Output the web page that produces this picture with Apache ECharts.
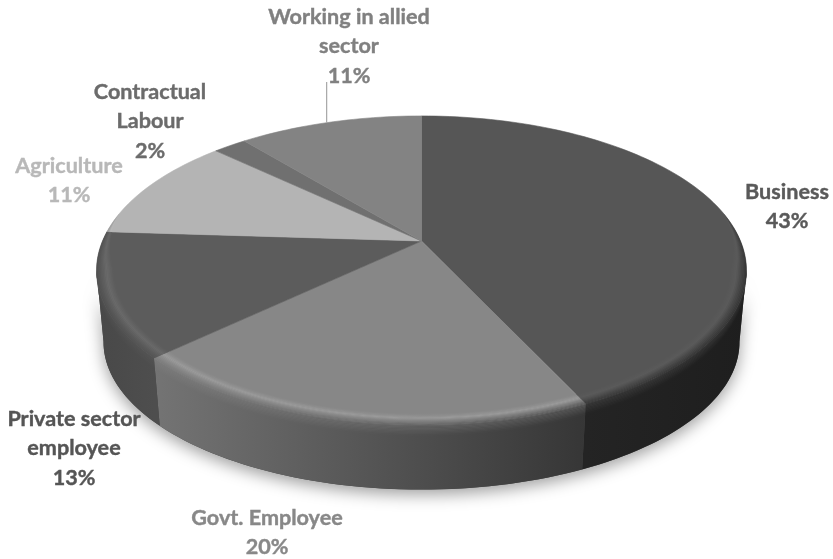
<!DOCTYPE html>
<html>
<head>
<meta charset="utf-8">
<style>html,body{margin:0;padding:0;background:#fff}#chart{width:833px;height:559px}</style>
<script src="https://cdn.jsdelivr.net/npm/echarts@6/dist/echarts.min.js"></script>
</head>
<body>
<div id="chart"></div>
<script>
// Occupation shares, clockwise from twelve o'clock
const categories = ['Business', 'Govt. Employee', 'Private sector\nemployee', 'Agriculture', 'Contractual\nLabour', 'Working in allied\nsector'];
const shares = [43, 20, 13, 11, 2, 11];

// Slice shading, as grey levels
const topGrey = [86, 135, 92, 180, 112, 131];
const sideFromGrey = [36, 116, 72, 120, 100, 110];
const sideToGrey = [30, 54, 78, 120, 100, 110];
const bevelLift = [4, 20, 14, 4, 4, 4];

// Label styling and placement
const labelGrey = [89, 136, 85, 184, 107, 128];
const labelCentres = [[787, 206.5], [267, 532.5], [74, 448.5], [69, 180.5], [150, 121.5], [349, 46.5]];
const leaderTopY = 82;
const leaderShare = 0.943;

// Tilted-disc projection
const CX = 421.5, APEX_Y = 241, SPREAD = 319, PERSP = 0.191, DEPTH_Y = -102.9;
const RIM_MID_Y = 270.5, BASE_MID_Y = 342, BASE_SX = 318 / 325, BASE_SY = 148 / 155;
const FRONT_FROM = 100.8, FRONT_TO = 259.2, TAPER = 22;
const toRad = d => d * Math.PI / 180;

function disc(deg, r) {
  const u = r * Math.sin(toRad(deg)), v = r * Math.cos(toRad(deg)), d = 1 + PERSP * v;
  return [CX + SPREAD * u / d, (APEX_Y + DEPTH_Y * v) / d];
}
function wall(deg, t) {
  const p = disc(deg, 1);
  const q = [CX + (p[0] - CX) * BASE_SX, BASE_MID_Y + (p[1] - RIM_MID_Y) * BASE_SY];
  return [p[0] + (q[0] - p[0]) * t, p[1] + (q[1] - p[1]) * t];
}
function arc(a, b, fn) {
  const n = Math.max(2, Math.ceil(Math.abs(b - a) / 1.5)), out = [];
  for (let i = 0; i <= n; i++) out.push(fn(a + (b - a) * i / n));
  return out;
}
// Bevel width along the rim: full across the front, narrowing to nothing towards the back
function taper(d) {
  const past = d < FRONT_FROM ? FRONT_FROM - d : d > FRONT_TO ? d - FRONT_TO : 0;
  return Math.max(0, 1 - past / TAPER);
}

const total = shares.reduce((s, v) => s + v, 0);
const bounds = [0];
shares.forEach(v => bounds.push(bounds[bounds.length - 1] + v / total * 360));

const grey = g => { const n = Math.round(g); return `rgb(${n},${n},${n})`; };
const mix = (p, q, m) => p + (q - p) * m;
const seriesData = shares.map((v, i) => ({ name: categories[i], value: v }));

// Horizontal wall shading blended towards a surface grey by amount m
function wallFill(i, a, b, target, m) {
  return {
    type: 'linear', global: true, x: wall(b, 0)[0], y: 0, x2: wall(a, 0)[0], y2: 0,
    colorStops: [
      { offset: 0, color: grey(mix(sideFromGrey[i], target, m)) },
      { offset: 1, color: grey(mix(sideToGrey[i], target, m)) }
    ]
  };
}

function wallOutline(a, b) {
  return arc(a, b, d => wall(d, 0)).concat(arc(b, a, d => wall(d, 1)));
}

function renderShadow(params) {
  if (params.dataIndex !== 0) return null;
  return {
    type: 'polygon',
    shape: { points: wallOutline(FRONT_FROM, FRONT_TO) },
    style: { fill: '#444', shadowColor: 'rgba(0,0,0,0.38)', shadowBlur: 16, shadowOffsetY: 5 }
  };
}

function renderSide(params) {
  const i = params.dataIndex;
  const a = Math.max(bounds[i], FRONT_FROM), b = Math.min(bounds[i + 1], FRONT_TO);
  if (b <= a) return null;
  return {
    type: 'polygon',
    shape: { points: wallOutline(a, b) },
    style: { fill: wallFill(i, a, b, 0, 0) }
  };
}

function renderTop(params) {
  const i = params.dataIndex;
  const pts = [disc(0, 0)].concat(arc(bounds[i], bounds[i + 1], d => disc(d, 1)));
  return {
    type: 'polygon',
    shape: { points: pts },
    style: { fill: grey(topGrey[i]), stroke: grey(topGrey[i]), lineWidth: 0.6 }
  };
}

// Soft rounded edge: rings on the surface, then a short blend down the wall
function renderBevel(params) {
  const i = params.dataIndex;
  const a = Math.max(bounds[i], FRONT_FROM - TAPER), b = Math.min(bounds[i + 1], FRONT_TO + TAPER);
  if (b <= a) return null;
  const children = [];
  const base = topGrey[i], lift = bevelLift[i];
  const RINGS = 12, INNER = 0.05;
  for (let k = 0; k < RINGS; k++) {
    const f = (k + 0.5) / RINGS;
    const bump = f < 0.4 ? f / 0.4 : Math.max(0, 1 - (f - 0.4) / 0.6);
    const target = base + lift * bump;
    const m = f > 0.4 ? (f - 0.4) / 0.6 * 0.6 : 0;
    const r0 = 1 - INNER * (1 - k / RINGS), r1 = 1 - INNER * (1 - (k + 1.15) / RINGS);
    children.push({
      type: 'polygon',
      shape: { points: arc(a, b, d => disc(d, 1 - (1 - r0) * taper(d))).concat(arc(b, a, d => disc(d, 1 - Math.max(0, 1 - r1) * taper(d)))) },
      style: { fill: wallFill(i, a, b, target, 1 - m) }
    });
  }
  const wa = Math.max(bounds[i], FRONT_FROM), wb = Math.min(bounds[i + 1], FRONT_TO);
  if (wb > wa) {
    const STEPS = 8, REACH = 0.16;
    for (let k = 0; k < STEPS; k++) {
      const t0 = REACH * k / STEPS, t1 = REACH * (k + 1.15) / STEPS;
      children.push({
        type: 'polygon',
        shape: { points: arc(wa, wb, d => wall(d, t0)).concat(arc(wb, wa, d => wall(d, t1))) },
        style: { fill: wallFill(i, wa, wb, base, 0.4 * (1 - (k + 0.5) / STEPS)) }
      });
    }
  }
  return { type: 'group', children };
}

function renderLabel(params) {
  const i = params.dataIndex;
  const [x, y] = labelCentres[i];
  return {
    type: 'text',
    style: {
      x, y,
      text: categories[i] + '\n' + shares[i] + '%',
      font: 'bold 21.6px Lato, "Open Sans", sans-serif',
      lineHeight: 29.5,
      fill: grey(labelGrey[i]),
      stroke: grey(labelGrey[i]),
      lineWidth: 0.4,
      align: 'center',
      verticalAlign: 'middle'
    }
  };
}

function renderLeader(params) {
  if (params.dataIndex !== shares.length - 1) return null;
  const end = disc(leaderShare * 360, 1);
  return {
    type: 'line',
    shape: { x1: end[0], y1: leaderTopY, x2: end[0], y2: end[1] },
    style: { stroke: '#a6a6a6', lineWidth: 1.2 }
  };
}

const layer = (renderItem, z) => ({
  type: 'custom', coordinateSystem: 'none', data: seriesData,
  renderItem, z, silent: true, animation: false, clip: false
});

const chart = echarts.init(document.getElementById('chart'), null, { renderer: 'canvas' });
chart.setOption({
  animation: false,
  backgroundColor: '#ffffff',
  series: [
    layer(renderShadow, 1),
    layer(renderSide, 2),
    layer(renderTop, 3),
    layer(renderBevel, 4),
    layer(renderLeader, 5),
    layer(renderLabel, 6)
  ]
});
</script>
</body>
</html>
